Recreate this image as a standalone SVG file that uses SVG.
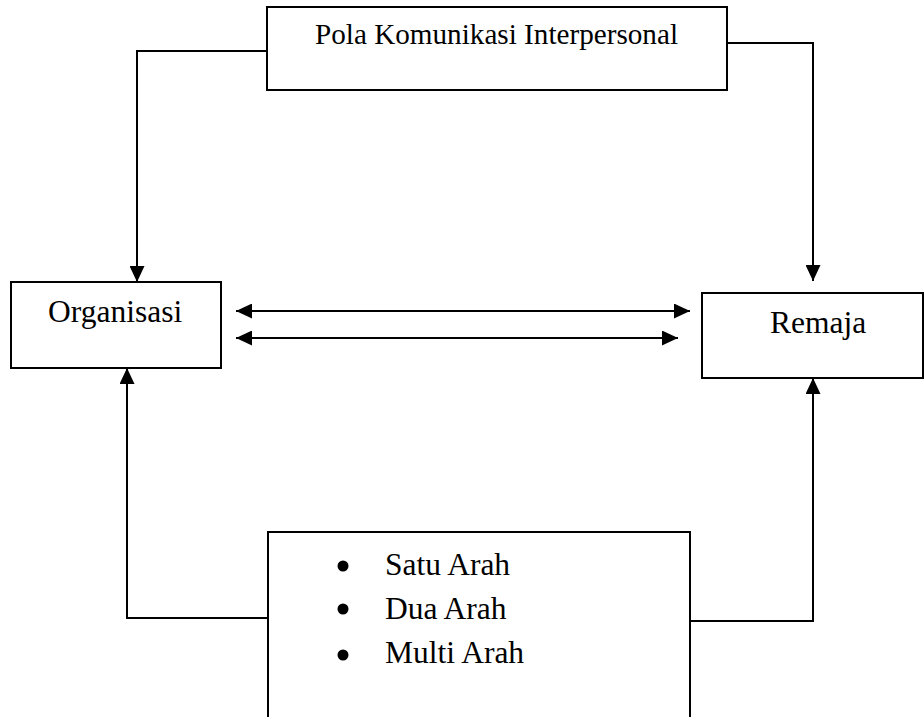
<svg xmlns="http://www.w3.org/2000/svg" width="924" height="717" viewBox="0 0 924 717">
<style>
.box{fill:#fff;stroke:#000;stroke-width:2}
.ln{fill:none;stroke:#000;stroke-width:2}
text{font-family:"Liberation Serif","Times New Roman",serif;fill:#000}
.lbl{font-size:31.5px}
</style>
<defs>
<marker id="a" viewBox="0 0 16 15" refX="16" refY="7.5" markerWidth="16" markerHeight="15" markerUnits="userSpaceOnUse" orient="auto-start-reverse">
<path d="M0,0 L16,7.5 L0,15 z" fill="#000"/>
</marker>
</defs>
<rect width="924" height="717" fill="#fff"/>
<g id="connectors">
<polyline class="ln" points="267,51 137,51 137,282" marker-end="url(#a)"/>
<polyline class="ln" points="727,43 813,43 813,281" marker-end="url(#a)"/>
<polyline class="ln" points="267,618 127,618 127,368" marker-end="url(#a)"/>
<polyline class="ln" points="690,621 813,621 813,378" marker-end="url(#a)"/>
<line class="ln" x1="236" y1="311" x2="690" y2="311" marker-start="url(#a)" marker-end="url(#a)"/>
<line class="ln" x1="236" y1="338" x2="678" y2="338" marker-start="url(#a)" marker-end="url(#a)"/>
</g>
<g id="pola">
<rect class="box" x="267" y="7" width="460" height="83"/>
<text x="315" y="44" font-size="29" textLength="363" lengthAdjust="spacingAndGlyphs">Pola Komunikasi Interpersonal</text>
</g>
<g id="organisasi">
<rect class="box" x="11" y="282" width="210" height="86"/>
<text class="lbl" x="48" y="322">Organisasi</text>
</g>
<g id="remaja">
<rect class="box" x="702" y="293" width="221" height="85"/>
<text class="lbl" x="770" y="333">Remaja</text>
</g>
<g id="arah">
<rect class="box" x="268" y="532" width="422" height="200"/>
<circle cx="343" cy="566" r="5.5"/>
<circle cx="343" cy="609" r="5.5"/>
<circle cx="343" cy="655" r="5.5"/>
<text class="lbl" x="385" y="575">Satu Arah</text>
<text class="lbl" x="385" y="619">Dua Arah</text>
<text class="lbl" x="385" y="663">Multi Arah</text>
</g>
</svg>
